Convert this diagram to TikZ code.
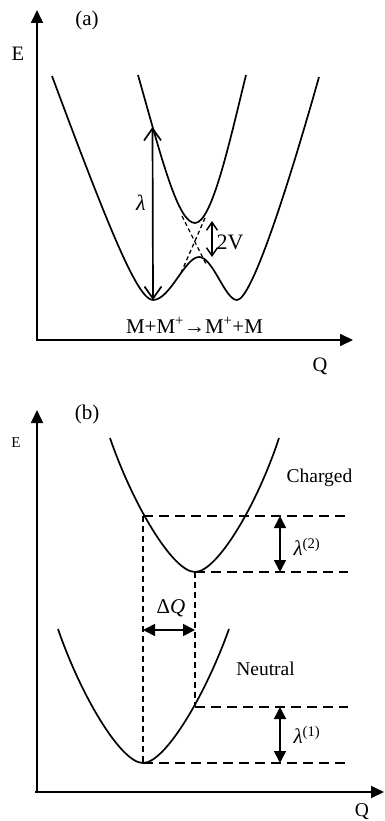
\documentclass[tikz,border=0pt]{standalone}
\usepackage{fontspec}
\setmainfont{Liberation Serif}
\usetikzlibrary{arrows.meta}
\begin{document}
\begin{tikzpicture}[x=1pt,y=-1pt,
  lbl/.style={font=\fontsize{19.5}{22}\selectfont, inner sep=0pt},
  axis/.style={line width=1.7pt, line join=miter, {Triangle[length=13pt,width=12pt]}-{Triangle[length=13pt,width=12pt]}},
  curve/.style={line width=1.7pt},
  barb/.style={line width=1.7pt, {Straight Barb[length=12pt,width=17pt]}-{Straight Barb[length=12pt,width=17pt]}},
  smallbarb/.style={line width=1.5pt, {Straight Barb[length=8pt,width=11pt]}-{Straight Barb[length=8pt,width=11pt]}},
  xdash/.style={line width=1.3pt, dash pattern=on 4pt off 3pt},
  hdash/.style={line width=1.5pt, dash pattern=on 10pt off 6pt},
  vdash/.style={line width=1.3pt, dash pattern=on 6pt off 4pt},
  tri/.style={line width=1.7pt, {Triangle[length=12pt,width=12pt]}-{Triangle[length=12pt,width=12pt]}}
]
\useasboundingbox (0,0) rectangle (385,821);

% ---------------- panel (a) ----------------
\coordinate (aY) at (37,10);
\coordinate (aO) at (37,340);
\coordinate (aX) at (353,340);
\draw[axis] (aY) -- (aO) -- (aX);
\node[lbl, font=\fontsize{21}{24}\selectfont] (alabel) at (87,20) {(a)};
\node[lbl, font=\fontsize{20.5}{24}\selectfont] (aE) at (18,54) {E};
\node[lbl, font=\fontsize{20.5}{24}\selectfont, anchor=base] (aQ) at (320,371) {Q};

% lower adiabatic surface
\draw[curve] (52,76) .. controls (110,232) and (138,300) .. (153,300)
  .. controls (170,300) and (185,257) .. (199,257)
  .. controls (213,257) and (225,300) .. (237,300)
  .. controls (252,300) and (290,180) .. (319,77);
% upper adiabatic surface
\draw[curve] (138,75) .. controls (162,160) and (178,223) .. (195,223)
  .. controls (212,223) and (230,140) .. (246,75);
% diabatic crossing (dashed X)
\coordinate (x1a) at (182,216);
\coordinate (x1b) at (206,264);
\coordinate (x2a) at (205,218);
\coordinate (x2b) at (181,273);
\draw[xdash] (x1a) -- (x1b);
\draw[xdash] (x2a) -- (x2b);

% lambda arrow
\coordinate (lamB) at (153,300);
\coordinate (lamT) at (152.5,127);
\draw[barb] (lamB) -- (lamT);
\node[font=\fontsize{22}{24}\selectfont, inner sep=0pt] (lamA) at (141,203) {\textit{λ}};

% 2V arrow
\coordinate (vT) at (212,221);
\coordinate (vB) at (212,257);
\draw[smallbarb] (vT) -- (vB);
\node[font=\fontsize{22}{24}\selectfont, inner sep=0pt] (twoV) at (230,242) {2V};

\node[lbl, font=\fontsize{21}{24}\selectfont, anchor=base] (react) at (194.5,333) {M+M\textsuperscript{+}→M\textsuperscript{+}+M};

% ---------------- panel (b) ----------------
\coordinate (bY) at (37,410);
\coordinate (bO) at (37,792);
\coordinate (bX) at (384,792);
\draw[axis] (bY) -- (bO) -- (bX);
\draw[line width=1.7pt] (bO) -- ++(-2,0);
\node[lbl, font=\fontsize{21}{24}\selectfont] (blabel) at (87,414) {(b)};
\node[font=\fontsize{15}{18}\selectfont, inner sep=0pt] (bE) at (16,443) {E};
\node[lbl, anchor=base] (bQ) at (362,816) {Q};

% charged and neutral curves
\draw[curve] (110,438) .. controls (133,505) and (173,572) .. (195,572)
  .. controls (217,572) and (257,505) .. (279,438);
\draw[curve] (58,629) .. controls (81,696) and (121,763) .. (143,763)
  .. controls (165,763) and (205,696) .. (229,629);
\node[lbl] (charged) at (319.5,478) {Charged};
\node[lbl] (neutral) at (265.5,669) {Neutral};

% reference points
\coordinate (c1) at (143,516);
\coordinate (c2) at (195,572);
\coordinate (n1) at (195,707);
\coordinate (n2) at (143,763);
\coordinate (e1) at (348,516);
\coordinate (e2) at (348,572);
\coordinate (e3) at (348,707);
\coordinate (e4) at (348,763);
\draw[hdash] (c1) -- (e1);
\draw[hdash] (c2) -- (e2);
\draw[hdash] (n1) -- (e3);
\draw[hdash] (n2) -- (e4);
\draw[vdash] (c1) -- (n2);
\draw[vdash] (c2) -- (n1);

% lambda arrows
\coordinate (l2T) at (280,516);
\coordinate (l2B) at (280,572);
\coordinate (l1T) at (280,707);
\coordinate (l1B) at (280,763);
\draw[tri] (l2T) -- (l2B);
\draw[tri] (l1T) -- (l1B);
\node[lbl, font=\fontsize{21}{24}\selectfont] (lam2) at (307,547) {\textit{λ}\textsuperscript{(2)}};
\node[lbl, font=\fontsize{21}{24}\selectfont] (lam1) at (307,735) {\textit{λ}\textsuperscript{(1)}};

% Delta Q arrow
\coordinate (dL) at (143,630);
\coordinate (dR) at (195,630);
\draw[tri] (dL) -- (dR);
\node[lbl, font=\fontsize{21}{24}\selectfont] (dQ) at (171,608) {Δ\textit{Q}};
\end{tikzpicture}
\end{document}
